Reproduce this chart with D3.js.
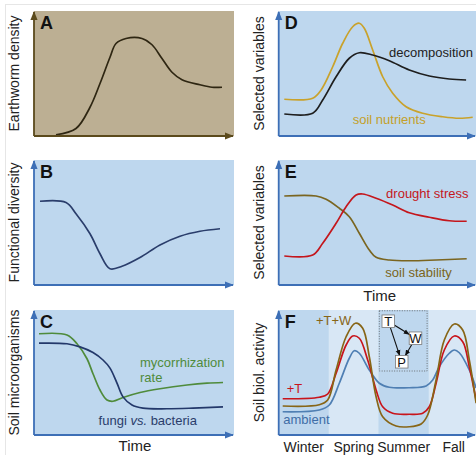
<!DOCTYPE html>
<html>
<head>
<meta charset="utf-8">
<script src="https://cdn.jsdelivr.net/npm/d3@7"></script>
<style>
  body { margin: 0; background: #fff; }
  svg { display: block; font-family: "Liberation Sans", Arial, sans-serif; }
</style>
</head>
<body>
<script>
// ---- data (time 0-100, value 0-100) ----
const earthwormT = [11, 21, 28, 33, 38, 41, 46, 54, 59, 64, 69, 74, 83, 89, 94]
const earthwormV = [1, 6, 23, 42, 63, 74, 78, 78, 73, 62, 51, 45, 41, 39, 39]

const diversityT = [3, 16, 21, 28, 33, 38, 44, 53, 63, 73, 83, 93]
const diversityV = [67, 66, 57, 41, 25, 13, 15, 22, 32, 39, 43, 45]

const mycoT = [2.5, 16.5, 21.5, 26.5, 29.5, 33, 36.5, 39.5, 44.5, 53, 63, 76.5, 86.5, 94.5]
const mycoV = [81, 80, 73, 61, 49, 36, 28, 27, 30, 34, 37, 40, 41.5, 42]
const fungiT = [2.5, 16.5, 23, 29.5, 34.5, 38, 41.5, 44.5, 49, 54.5, 66.5, 79.5, 94.5]
const fungiV = [73.5, 73, 70.5, 66, 60, 53.5, 41.5, 30.5, 24, 21.5, 21, 21.5, 22.5]

const decompT = [2.8, 17, 22, 28.7, 35.3, 40.3, 47, 55.3, 65.3, 75.3, 85.3, 93.7]
const decompV = [17.6, 18.2, 28.8, 47.4, 62.2, 66.6, 64.8, 60.2, 52.8, 48, 45.6, 44.8]
const nutrT = [2.8, 17, 21.2, 27, 32, 37, 40.3, 42.8, 47, 52, 57, 63.7, 72, 82, 90.3, 97]
const nutrV = [29.4, 30.2, 36.8, 55.4, 74.2, 87.4, 90.2, 86.2, 68.8, 47.4, 34.2, 23.4, 18.2, 15.4, 14.2, 15]

const droughtT = [2.8, 17, 22, 28.7, 33.7, 38.7, 42, 48.7, 57, 65.3, 75.3, 85.3, 94]
const droughtV = [23.2, 24, 33.4, 49.4, 62.6, 72, 72.8, 69.4, 64, 57.8, 54.2, 51.4, 51]
const stabT = [2.8, 18.7, 23.7, 30.3, 35.3, 40.3, 45.3, 48.7, 55.3, 65.3, 78.7, 94]
const stabV = [71.2, 71.2, 68.6, 61.4, 54.6, 41.4, 28, 22.2, 20, 19.4, 20, 21]

const seasonT = [2, 20.3, 25.3, 30.3, 35.3, 37.8, 40.3, 45.3, 50.3, 55.3, 65.3, 73.7, 77, 80.3, 85.3, 87.8, 90.3, 95.3, 98.7]
const ambientV = [18.6, 20, 24, 41.4, 61.4, 67.4, 65.4, 52, 41.4, 38.2, 37.8, 39.2, 44, 54.6, 65.4, 68, 65.8, 52, 37.6]
const warmT = [2, 20.3, 24.5, 28.7, 33.7, 37, 40.3, 44.5, 48.7, 52, 57, 65.3, 72, 75.3, 78.7, 82.8, 87.8, 92, 95.3, 98.7]
const warmV = [29, 30.2, 32.8, 49.4, 72, 79.2, 77.4, 60, 36, 22.6, 17.4, 16.6, 17.4, 22.6, 41.4, 68, 79.2, 74.6, 54.6, 28]
const warmWetT = [2, 20.3, 24.5, 28.7, 33.7, 38.3, 42, 45.3, 48.7, 52, 58.7, 65.3, 71.2, 74.5, 78.7, 82.8, 87.8, 92, 95.3, 98.7]
const warmWetV = [23.2, 24.2, 28, 52, 78.6, 89.4, 85.4, 62.6, 30.6, 14.6, 7.2, 6.6, 8.8, 16, 44, 76, 88.8, 84, 60, 25.4]

const seasons = ['Winter', 'Spring', 'Summer', 'Fall']
const seasonEdges = [0, 25, 50, 75, 100]

// inset diagram nodes (panel F coordinates)
const insetNodes = [{id: 'T', t: 54.8, v: 91}, {id: 'W', t: 68.4, v: 77.4}, {id: 'P', t: 61.5, v: 58.6}]
const insetLinks = [['T', 'W'], ['T', 'P'], ['W', 'P']]

// ---- layout ----
const width = 476, height = 455
const cols = [[34, 234], [278.7, 478.7]]
const rows = [[136, 11], [285, 160], [435, 310]]

const blueBg = '#bed7ee', lightBg = '#d8e7f5', blueAxis = '#3d6fb6'

const zip = (ts, vs) => ts.map((t, i) => ({t, v: vs[i]}))

const panels = [
  {letter: 'A', col: 0, row: 0, ylabel: 'Earthworm density', bg: '#bcaf93', axis: '#5b4a1c',
    series: [{d: zip(earthwormT, earthwormV), color: '#2e2612'}], labels: []},
  {letter: 'B', col: 0, row: 1, ylabel: 'Functional diversity', bg: blueBg, axis: blueAxis,
    series: [{d: zip(diversityT, diversityV), color: '#2a3d6b'}], labels: []},
  {letter: 'C', col: 0, row: 2, ylabel: 'Soil microorganisms', bg: blueBg, axis: blueAxis, xlabel: 'Time',
    series: [{d: zip(mycoT, mycoV), color: '#4f8b3b'}, {d: zip(fungiT, fungiV), color: '#23386a'}],
    labels: [
      {text: 'mycorrhization', t: 53, v: 54.6, color: '#4f8b3b'},
      {text: 'rate', t: 53, v: 42.6, color: '#4f8b3b'},
      {text: ['fungi ', 'vs.', ' bacteria'], t: 32.3, v: 8, color: '#2a3d6b'}
    ]},
  {letter: 'D', col: 1, row: 0, ylabel: 'Selected variables', bg: blueBg, axis: blueAxis,
    series: [{d: zip(nutrT, nutrV), color: '#c9a22b'}, {d: zip(decompT, decompV), color: '#1e1e1e'}],
    labels: [
      {text: 'decomposition', t: 55.2, v: 63.2, color: '#222'},
      {text: 'soil nutrients', t: 37, v: 9.6, color: '#c4a02a'}
    ]},
  {letter: 'E', col: 1, row: 1, ylabel: 'Selected variables', bg: blueBg, axis: blueAxis, xlabel: 'Time',
    series: [{d: zip(stabT, stabV), color: '#7a6520'}, {d: zip(droughtT, droughtV), color: '#c4161c'}],
    labels: [
      {text: 'drought stress', t: 53.7, v: 69.8, color: '#c4161c'},
      {text: 'soil stability', t: 53.3, v: 6.2, color: '#7a6520'}
    ]},
  {letter: 'F', col: 1, row: 2, ylabel: 'Soil biol. activity', bg: blueBg, axis: blueAxis, seasonal: true,
    series: [
      {d: zip(seasonT, ambientV), color: '#4f7fb3'},
      {d: zip(warmT, warmV), color: '#c8141b'},
      {d: zip(warmWetT, warmWetV), color: '#876516'}
    ],
    labels: [
      {text: '+T+W', t: 18.6, v: 88, color: '#876516'},
      {text: '+T', t: 4, v: 33.4, color: '#c8141b'},
      {text: 'ambient', t: 2.3, v: 8.8, color: '#3f6da6'}
    ]}
]

const svg = d3.select('body').append('svg')
  .attr('width', width)
  .attr('height', height)

// faint figure frame
svg.append('line').attr('x1', 5).attr('x2', width).attr('y1', 4.5).attr('y2', 4.5)
  .attr('stroke', '#e6e6e6').attr('stroke-width', 1)
svg.append('line').attr('x1', 5.5).attr('x2', 5.5).attr('y1', 4.5).attr('y2', height)
  .attr('stroke', '#e6e6e6').attr('stroke-width', 1)

const defs = svg.append('defs')
function marker(id, color, size) {
  defs.append('marker')
    .attr('id', id)
    .attr('viewBox', '0 0 10 10')
    .attr('refX', 9).attr('refY', 5)
    .attr('markerWidth', size).attr('markerHeight', size)
    .attr('markerUnits', 'userSpaceOnUse')
    .attr('orient', 'auto')
    .append('path').attr('d', 'M0,1L10,5L0,9z').attr('fill', color)
}
marker('arrowBrown', '#5b4a1c', 9)
marker('arrowBlue', blueAxis, 9)
marker('arrowBlack', '#111', 6)

panels.forEach((p) => {
  const x = d3.scaleLinear().domain([0, 100]).range(cols[p.col])
  const y = d3.scaleLinear().domain([0, 100]).range(rows[p.row])
  const g = svg.append('g')
  const [x0, x1] = x.range()
  const [yb, yt] = y.range()
  const bgRight = p.col === 0 ? x1 : width

  g.append('rect')
    .attr('x', x0).attr('y', yt)
    .attr('width', bgRight - x0).attr('height', yb - yt)
    .attr('fill', p.bg)

  if (p.seasonal) {
    g.selectAll('rect.season').data(seasons).join('rect')
      .attr('class', 'season')
      .attr('x', (d, i) => x(seasonEdges[i]))
      .attr('y', yt)
      .attr('width', (d, i) => Math.min(x(seasonEdges[i + 1]), width) - x(seasonEdges[i]))
      .attr('height', yb - yt)
      .attr('fill', (d, i) => i % 2 === 0 ? blueBg : lightBg)
    g.selectAll('text.season').data(seasons).join('text')
      .attr('class', 'season')
      .attr('x', (d, i) => x((seasonEdges[i] + seasonEdges[i + 1]) / 2))
      .attr('y', 452)
      .attr('text-anchor', 'middle')
      .attr('font-size', 14)
      .attr('fill', '#222')
      .text((d) => d)
  }

  const line = d3.line()
    .x((d) => x(d.t))
    .y((d) => y(d.v))
    .curve(d3.curveCatmullRom.alpha(0.5))

  g.selectAll('path.series').data(p.series).join('path')
    .attr('class', 'series')
    .attr('d', (s) => line(s.d))
    .attr('fill', 'none')
    .attr('stroke', (s) => s.color)
    .attr('stroke-width', 1.7)

  // axes as arrows
  const arrowId = p.axis === blueAxis ? 'arrowBlue' : 'arrowBrown'
  g.append('line')
    .attr('x1', x0).attr('y1', yb).attr('x2', x0).attr('y2', yt + 1)
    .attr('stroke', p.axis).attr('stroke-width', 1.8)
    .attr('marker-end', `url(#${arrowId})`)
  g.append('line')
    .attr('x1', x0).attr('y1', yb).attr('x2', Math.min(x1, width) - 1).attr('y2', yb)
    .attr('stroke', p.axis).attr('stroke-width', 1.8)
    .attr('marker-end', `url(#${arrowId})`)

  g.append('text')
    .attr('x', x0 + 6).attr('y', yt + 18)
    .attr('font-size', 18).attr('font-weight', 'bold')
    .attr('fill', '#111')
    .text(p.letter)

  g.append('text')
    .attr('transform', `translate(${x0 - 15},${(yb + yt) / 2}) rotate(-90)`)
    .attr('text-anchor', 'middle')
    .attr('font-size', 14)
    .attr('fill', '#222')
    .text(p.ylabel)

  if (p.xlabel) {
    g.append('text')
      .attr('x', x(50.5))
      .attr('y', yb + 15.5)
      .attr('text-anchor', 'middle')
      .attr('font-size', 15)
      .attr('fill', '#222')
      .text(p.xlabel)
  }

  p.labels.forEach((l) => {
    const t = g.append('text')
      .attr('x', x(l.t)).attr('y', y(l.v))
      .attr('font-size', 13)
      .attr('fill', l.color)
    if (Array.isArray(l.text)) {
      l.text.forEach((s, i) => t.append('tspan').attr('font-style', i === 1 ? 'italic' : null).text(s))
    } else {
      t.text(l.text)
    }
  })

  if (p.seasonal) {
    // inset T / W / P diagram
    g.append('rect')
      .attr('x', x(50.3)).attr('y', y(99.4))
      .attr('width', x(74.2) - x(50.3)).attr('height', y(51.2) - y(99.4))
      .attr('fill', 'none').attr('stroke', '#555')
      .attr('stroke-width', 0.8).attr('stroke-dasharray', '1,1.5')
    const byId = Object.fromEntries(insetNodes.map((n) => [n.id, n]))
    const half = 6.3
    insetLinks.forEach(([a, b]) => {
      const A = byId[a], B = byId[b]
      const ax = x(A.t), ay = y(A.v), bx = x(B.t), by = y(B.v)
      const dx = bx - ax, dy = by - ay
      const clip = (px, py, sx, sy) => {
        const s = Math.min(half / Math.abs(sx || 1e-9), half / Math.abs(sy || 1e-9))
        return [px + sx * s, py + sy * s]
      }
      const len = Math.hypot(dx, dy)
      const ux = dx / len, uy = dy / len
      const [sx, sy] = clip(ax, ay, ux, uy)
      const [ex, ey] = clip(bx, by, -ux, -uy)
      g.append('line')
        .attr('x1', sx).attr('y1', sy).attr('x2', ex).attr('y2', ey)
        .attr('stroke', '#111').attr('stroke-width', 1.1)
        .attr('marker-end', 'url(#arrowBlack)')
    })
    const node = g.selectAll('g.node').data(insetNodes).join('g')
      .attr('class', 'node')
      .attr('transform', (n) => `translate(${x(n.t)},${y(n.v)})`)
    node.append('rect')
      .attr('x', -half).attr('y', -half).attr('width', half * 2).attr('height', half * 2)
      .attr('fill', '#fff').attr('stroke', '#777').attr('stroke-width', 0.8)
    node.append('text')
      .attr('text-anchor', 'middle').attr('y', 5)
      .attr('font-size', 13).attr('fill', '#111')
      .text((n) => n.id)
  }
})
</script>
</body>
</html>
